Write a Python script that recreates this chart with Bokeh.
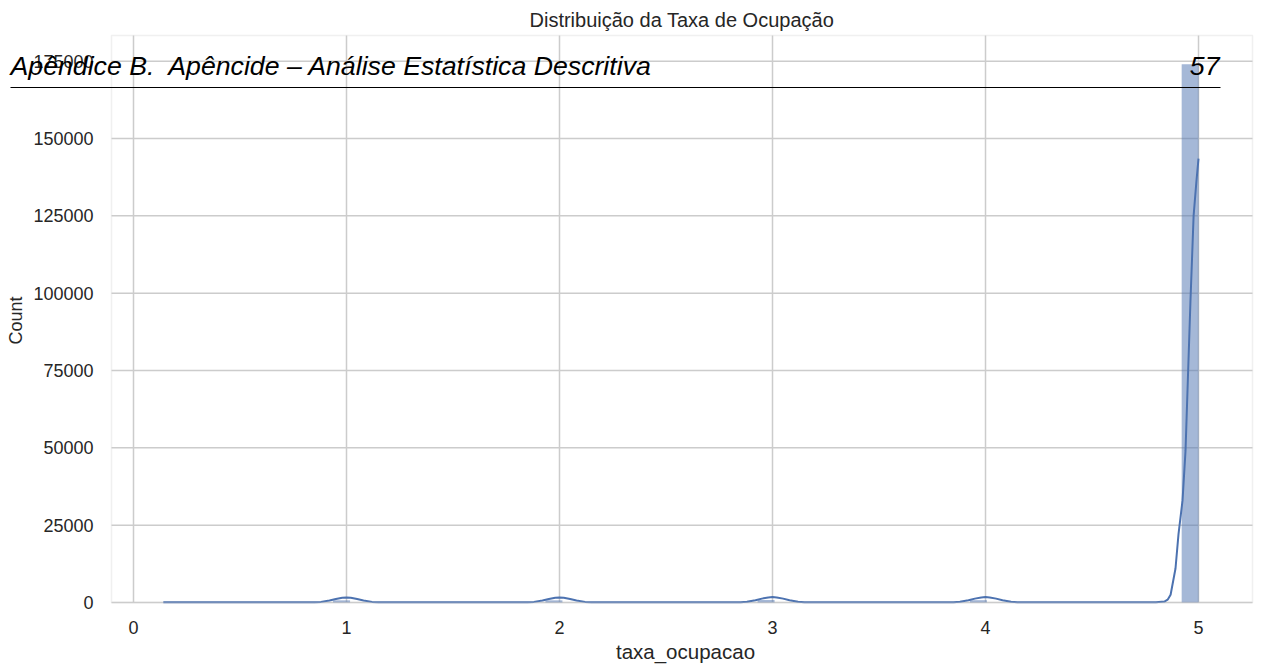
import math
from bokeh.plotting import figure
from bokeh.models import Label, Arrow, BoxAnnotation, Range1d, FixedTicker, BasicTickFormatter
from bokeh.embed import file_html
from bokeh.resources import INLINE

# ---------------- data ----------------
title_text = "Distribuição da Taxa de Ocupação"
x_label = "taxa_ocupacao"
y_label = "Count"
overlay_text = "Apêndice B.\u00a0 Apêncide – Análise Estatística Descritiva"
page_number = "57"

bin_width = 0.0797
bin_left = [0.937, 1.934, 2.930, 3.927, 4.921]
bin_count = [700, 700, 800, 750, 174000]

kde_x = [0.14, 0.30, 0.50, 0.70, 0.85, 0.88, 0.92, 0.95, 0.98, 1.00, 1.02, 1.05, 1.08, 1.12, 1.15,
         1.40, 1.70, 1.85, 1.88, 1.92, 1.95, 1.98, 2.00, 2.02, 2.05, 2.08, 2.12, 2.15,
         2.40, 2.70, 2.85, 2.88, 2.92, 2.95, 2.98, 3.00, 3.02, 3.05, 3.08, 3.12, 3.15,
         3.40, 3.70, 3.85, 3.88, 3.92, 3.95, 3.98, 4.00, 4.02, 4.05, 4.08, 4.12, 4.15,
         4.40, 4.70, 4.80, 4.84, 4.855, 4.869, 4.892, 4.906, 4.925, 4.939, 4.950, 4.962, 4.977, 4.990, 5.00]
kde_y = [60, 60, 60, 60, 80, 200, 650, 1150, 1500, 1600, 1500, 1150, 650, 200, 80,
         60, 60, 80, 200, 650, 1150, 1500, 1600, 1500, 1150, 650, 200, 80,
         60, 60, 80, 220, 700, 1250, 1650, 1750, 1650, 1250, 700, 220, 80,
         60, 60, 80, 220, 700, 1250, 1650, 1750, 1650, 1250, 700, 220, 80,
         60, 60, 100, 300, 900, 2500, 11000, 22000, 33000, 49000, 72000, 97000, 125000, 136000, 143500]

x_ticks = [0, 1, 2, 3, 4, 5]
y_ticks = [0, 25000, 50000, 75000, 100000, 125000, 150000, 175000]

# ---------------- layout ----------------
# the axes box (seaborn frame) spans these data limits
X0, X1 = -0.1033, 5.2535
Y0, Y1 = 0, 183300
BOX_L, BOX_R, BOX_T, BOX_B = 111, 1252, 35, 602  # page pixels of that box


def px_x(px):
    return X0 + (px - BOX_L) / (BOX_R - BOX_L) * (X1 - X0)


def px_y(py):
    return Y0 + (BOX_B - py) / (BOX_B - BOX_T) * (Y1 - Y0)


# the Bokeh frame is larger than the box so the page heading can overlap freely
FR_L, FR_R, FR_T, FR_B = 0, 1254, 33, 666

FONT = "Liberation Sans"
TXT = "#262626"
GRID = "#cccccc"

p = figure(width=1264, height=666, output_backend="svg", toolbar_location=None,
           x_range=Range1d(px_x(FR_L), px_x(FR_R)), y_range=Range1d(px_y(FR_B), px_y(FR_T)),
           min_border_left=FR_L, min_border_right=1264 - FR_R,
           min_border_top=FR_T, min_border_bottom=666 - FR_B,
           background_fill_color="white", border_fill_color="white")
p.outline_line_color = None
p.xgrid.visible = False
p.ygrid.visible = False

p.title.text = title_text
p.title.align = "left"
p.title.offset = 529
p.title.text_font = FONT
p.title.text_font_size = "20px"
p.title.text_font_style = "normal"
p.title.text_color = TXT
p.title.standoff = 5

for ax in (p.xaxis[0], p.yaxis[0]):
    ax.axis_line_color = None
    ax.major_tick_line_color = None
    ax.minor_tick_line_color = None
    ax.major_tick_out = 0
    ax.major_tick_in = 0
    ax.minor_tick_out = 0
    ax.minor_tick_in = 0
    ax.major_label_text_font = FONT
    ax.major_label_text_font_size = "18px"
    ax.major_label_text_color = TXT

p.xaxis.ticker = FixedTicker(ticks=x_ticks)
p.yaxis.ticker = FixedTicker(ticks=y_ticks)
p.yaxis.formatter = BasicTickFormatter(use_scientific=False)
p.xaxis.fixed_location = Y0
p.xaxis.major_label_standoff = 18
p.yaxis.fixed_location = X0
p.yaxis.major_label_standoff = 18

# axis titles
p.add_layout(Label(x=px_x(685), y=px_y(651), text=x_label, text_font=FONT,
                   text_font_size="20.5px", text_color=TXT,
                   text_align="center", text_baseline="middle"))
p.add_layout(Label(x=px_x(15), y=px_y(320), text=y_label, text_font=FONT,
                   text_font_size="18px", text_color=TXT, angle=math.pi / 2,
                   text_align="center", text_baseline="middle"))

# grid lines at the tick positions, limited to the axes box
p.segment(x0=x_ticks, x1=x_ticks, y0=[Y0] * len(x_ticks), y1=[Y1] * len(x_ticks),
          line_color=GRID, line_width=1.5)
p.segment(x0=[X0] * len(y_ticks), x1=[X1] * len(y_ticks), y0=y_ticks, y1=y_ticks,
          line_color=GRID, line_width=1.5)

bin_right = [b + bin_width for b in bin_left]
p.quad(left=bin_left, right=bin_right, bottom=0, top=bin_count,
       fill_color="#4c72b0", fill_alpha=0.5, line_color=None)
p.line(kde_x, kde_y, line_color="#4c72b0", line_width=2)

# axes box (spines)
p.add_layout(BoxAnnotation(left=X0, right=X1, bottom=Y0, top=Y1, fill_alpha=0,
                           line_color=GRID, line_width=1.5))

# ---- overlaid page heading ----
p.add_layout(Label(x=px_x(10), y=px_y(65), text=overlay_text, text_font=FONT,
                   text_font_size="26.7px", text_font_style="italic", text_color="black",
                   text_align="left", text_baseline="middle"))
p.add_layout(Label(x=px_x(1219), y=px_y(65), text=page_number, text_font=FONT,
                   text_font_size="26.7px", text_font_style="italic", text_color="black",
                   text_align="right", text_baseline="middle"))
p.add_layout(Arrow(end=None, x_start=px_x(10), y_start=px_y(87), x_end=px_x(1220), y_end=px_y(87),
                   line_color="black", line_width=1))

open("out.html", "w").write(file_html(p, INLINE))
